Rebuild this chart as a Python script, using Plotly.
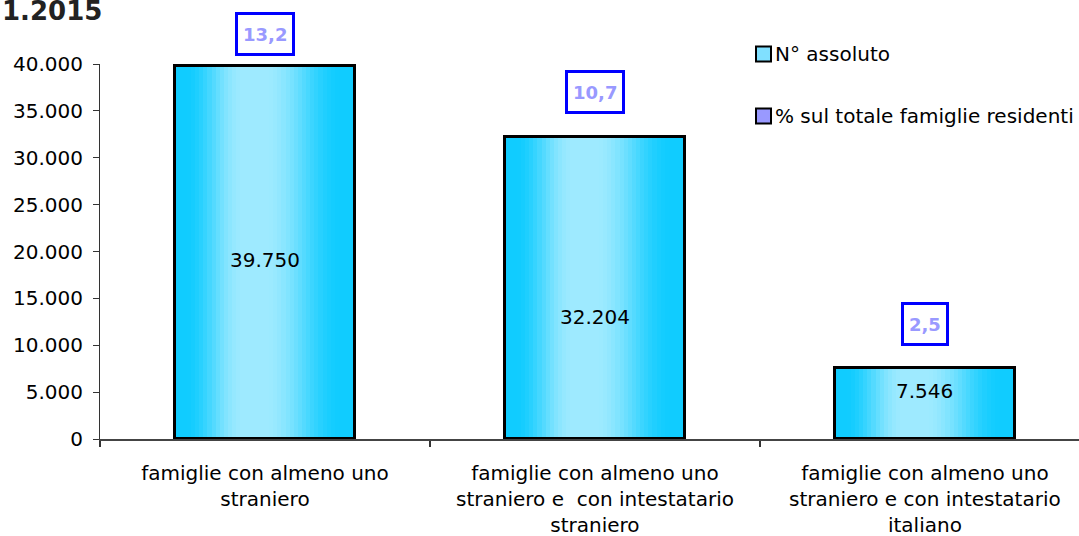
import math
import plotly.graph_objects as go

# ---- data ----
categories = [
    "famiglie con almeno uno<br>straniero",
    "famiglie con almeno uno<br>straniero e  con intestatario<br>straniero",
    "famiglie con almeno uno<br>straniero e con intestatario<br>italiano",
]
counts = [39750, 32204, 7546]
pct = [13.2, 10.7, 2.5]
series_names = ["N° assoluto", "% sul totale famiglie residenti"]
title_text = "1.2015"
y_ticks = [0, 5000, 10000, 15000, 20000, 25000, 30000, 35000, 40000]

# ---- style ----
FONT = "DejaVu Sans"
W, H = 1079, 536
ML, MR, MT, MB = 100, 0, 64, 97
PW, PH = W - ML - MR, H - MT - MB
BAR_W = 0.548
N_STRIPS = 44
EDGE = (16, 204, 255)
LIGHT = (158, 234, 255)
pct_offsets = [32, 45, 44]        # px above bar top
value_offsets = [-7, -29, 13]      # px shift from bar middle


def shade(t):
    if t < 0.06 or t > 0.92:
        s = 0.0
    elif t <= 0.38:
        s = 0.5 * (1 - math.cos(math.pi * (t - 0.06) / 0.32))
    elif t <= 0.5:
        s = 1.0
    else:
        s = 0.5 * (1 + math.cos(math.pi * (t - 0.5) / 0.42))
    c = [round(EDGE[k] + (LIGHT[k] - EDGE[k]) * s) for k in range(3)]
    return f"rgb({c[0]},{c[1]},{c[2]})"


def px_x(px):
    return (px - ML) / PW


def px_y(py):
    return (H - MB - py) / PH


fig = go.Figure()
sw = BAR_W / N_STRIPS
for i in range(N_STRIPS):
    t = (i + 0.5) / N_STRIPS
    fig.add_trace(go.Bar(
        x=categories, y=counts,
        width=sw * 1.2 if i < N_STRIPS - 1 else sw,
        offset=-BAR_W / 2 + i * sw,
        marker=dict(color=shade(t), line=dict(width=0)),
        showlegend=False, hoverinfo="skip",
    ))
fig.add_trace(go.Bar(
    x=categories, y=counts, width=BAR_W, offset=-BAR_W / 2,
    name=series_names[0],
    marker=dict(color="rgba(0,0,0,0)", line=dict(color="black", width=3)),
    showlegend=False,
))

annotations = []
for c, v, dy in zip(categories, counts, value_offsets):
    annotations.append(dict(
        x=c, y=v / 2, xref="x", yref="y", yshift=dy, showarrow=False,
        text=f"{v:,}".replace(",", "."),
        font=dict(family=FONT, size=20, color="black"),
    ))
for c, v, p, dy in zip(categories, counts, pct, pct_offsets):
    annotations.append(dict(
        x=c, y=v, xref="x", yref="y", yshift=dy, yanchor="middle", showarrow=False,
        text="<b>" + f"{p:.1f}".replace(".", ",") + "</b>",
        font=dict(family=FONT, size=18, color="#9999FF"),
        height=28, valign="middle",
        bordercolor="#0000FF", borderwidth=3, borderpad=5, bgcolor="white",
    ))
# title (near top edge)
annotations.append(dict(
    x=px_x(0), y=px_y(11), xref="paper", yref="paper", xanchor="left", yanchor="middle",
    showarrow=False, text=f"<b>{title_text}</b>",
    font=dict(family=FONT, size=26, color="#222222"),
))

# custom legend
shapes = []
legend_items = [(series_names[0], "#80E0FF", 54), (series_names[1], "#9999FF", 116)]
for name, col, cy in legend_items:
    shapes.append(dict(
        type="rect", xref="paper", yref="paper",
        x0=px_x(756), x1=px_x(771), y0=px_y(cy + 7.5), y1=px_y(cy - 7.5),
        fillcolor=col, line=dict(color="black", width=2),
    ))
    annotations.append(dict(
        x=px_x(773), y=px_y(cy), xref="paper", yref="paper", xanchor="left", yanchor="middle",
        showarrow=False, text=name, font=dict(family=FONT, size=20, color="black"),
    ))

fig.update_layout(
    width=W, height=H,
    margin=dict(l=ML, r=MR, t=MT, b=MB, pad=0),
    barmode="overlay", bargap=0,
    paper_bgcolor="white", plot_bgcolor="white",
    separators=",.",
    showlegend=False,
    annotations=annotations, shapes=shapes,
    font=dict(family=FONT, size=20, color="black"),
)
fig.update_xaxes(
    range=[-0.5, 2.467], tickson="boundaries", ticks="outside", ticklen=6,
    tickwidth=2, tickcolor="#333333", showline=True, linecolor="#444444", linewidth=2,
    showgrid=False, tickfont=dict(family=FONT, size=20, color="black"),
    ticklabelstandoff=15,
)
fig.update_yaxes(
    range=[0, 40000], tickvals=y_ticks, tickformat=",d", ticks="outside", ticklen=6,
    tickcolor="#333333", showline=True, linecolor="#333333", linewidth=1,
    showgrid=False, zeroline=False, tickfont=dict(family=FONT, size=20, color="black"),
    ticklabelstandoff=6,
)

fig.write_html(
    "out.html",
    config={"displayModeBar": False},
    post_script="document.body.style.margin='0';document.body.style.padding='0';"
                "document.documentElement.style.overflow='hidden';",
)
